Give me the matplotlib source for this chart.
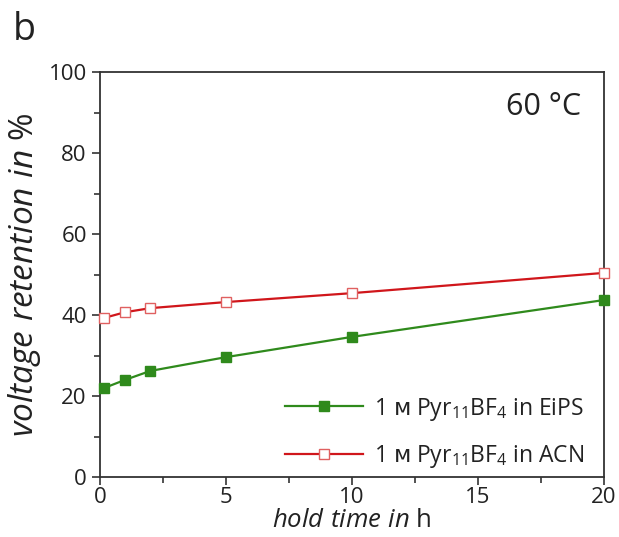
import matplotlib.pyplot as plt
from matplotlib.ticker import MultipleLocator

plt.rcParams["font.family"] = ["Open Sans", "DejaVu Sans"]
plt.rcParams["mathtext.fontset"] = "custom"
plt.rcParams["mathtext.rm"] = "Open Sans"
plt.rcParams["mathtext.it"] = "Open Sans:italic"
plt.rcParams["mathtext.sf"] = "DejaVu Sans"

hold_time = [0.17, 1, 2, 5, 10, 20]
eips = [22.0, 24.0, 26.2, 29.6, 34.6, 43.7]
acn = [39.3, 40.7, 41.7, 43.2, 45.4, 50.4]

green = "#2f8a1c"
red = "#d0161b"

fig = plt.figure(figsize=(6.19, 5.37), dpi=100)
ax = fig.add_axes([0.1616, 0.1117, 0.8142, 0.7542])

ax.plot(hold_time, eips, color=green, lw=1.6, marker="s", ms=7,
        mfc=green, mec=green, label=r"1 $\mathsf{ᴍ}$ Pyr$_{11}$BF$_4$ in EiPS",
        clip_on=False, zorder=3)
ax.plot(hold_time, acn, color=red, lw=1.6, marker="s", ms=7,
        mfc="white", mec="#e06060", label=r"1 $\mathsf{ᴍ}$ Pyr$_{11}$BF$_4$ in ACN",
        clip_on=False, zorder=3)

ax.set_xlim(0, 20)
ax.set_ylim(0, 100)
ax.xaxis.set_major_locator(MultipleLocator(5))
ax.xaxis.set_minor_locator(MultipleLocator(2.5))
ax.yaxis.set_major_locator(MultipleLocator(20))
ax.yaxis.set_minor_locator(MultipleLocator(10))
ax.tick_params(which="both", direction="out", labelsize=16, color="#333333", width=1.2,
               labelcolor="#222222")
ax.tick_params(which="major", length=6)
ax.tick_params(which="minor", length=4)
ax.tick_params(axis="x", pad=1.5)
for s in ax.spines.values():
    s.set_linewidth(1.3)
    s.set_color("#333333")

ax.set_xlabel(r"$\mathit{hold\ time\ in}$ h", fontsize=18.5, labelpad=0, color="#222222")
ax.set_ylabel(r"$\mathit{voltage\ retention\ in}$ %", fontsize=24, labelpad=4, color="#222222")

ax.text(0.955, 0.95, "60 °C", transform=ax.transAxes, fontsize=22, ha="right", va="top",
        color="#222222")
fig.text(0.02, 0.98, "b", fontsize=27, ha="left", va="top", color="#222222")

ax.legend(loc="lower right", fontsize=16.5, frameon=False, handlelength=3.4,
          borderaxespad=0.0, borderpad=0.3, labelspacing=0.9, handletextpad=0.5,
          labelcolor="#222222", bbox_to_anchor=(0.975, 0.0))

fig.savefig("out.png", dpi=100)
